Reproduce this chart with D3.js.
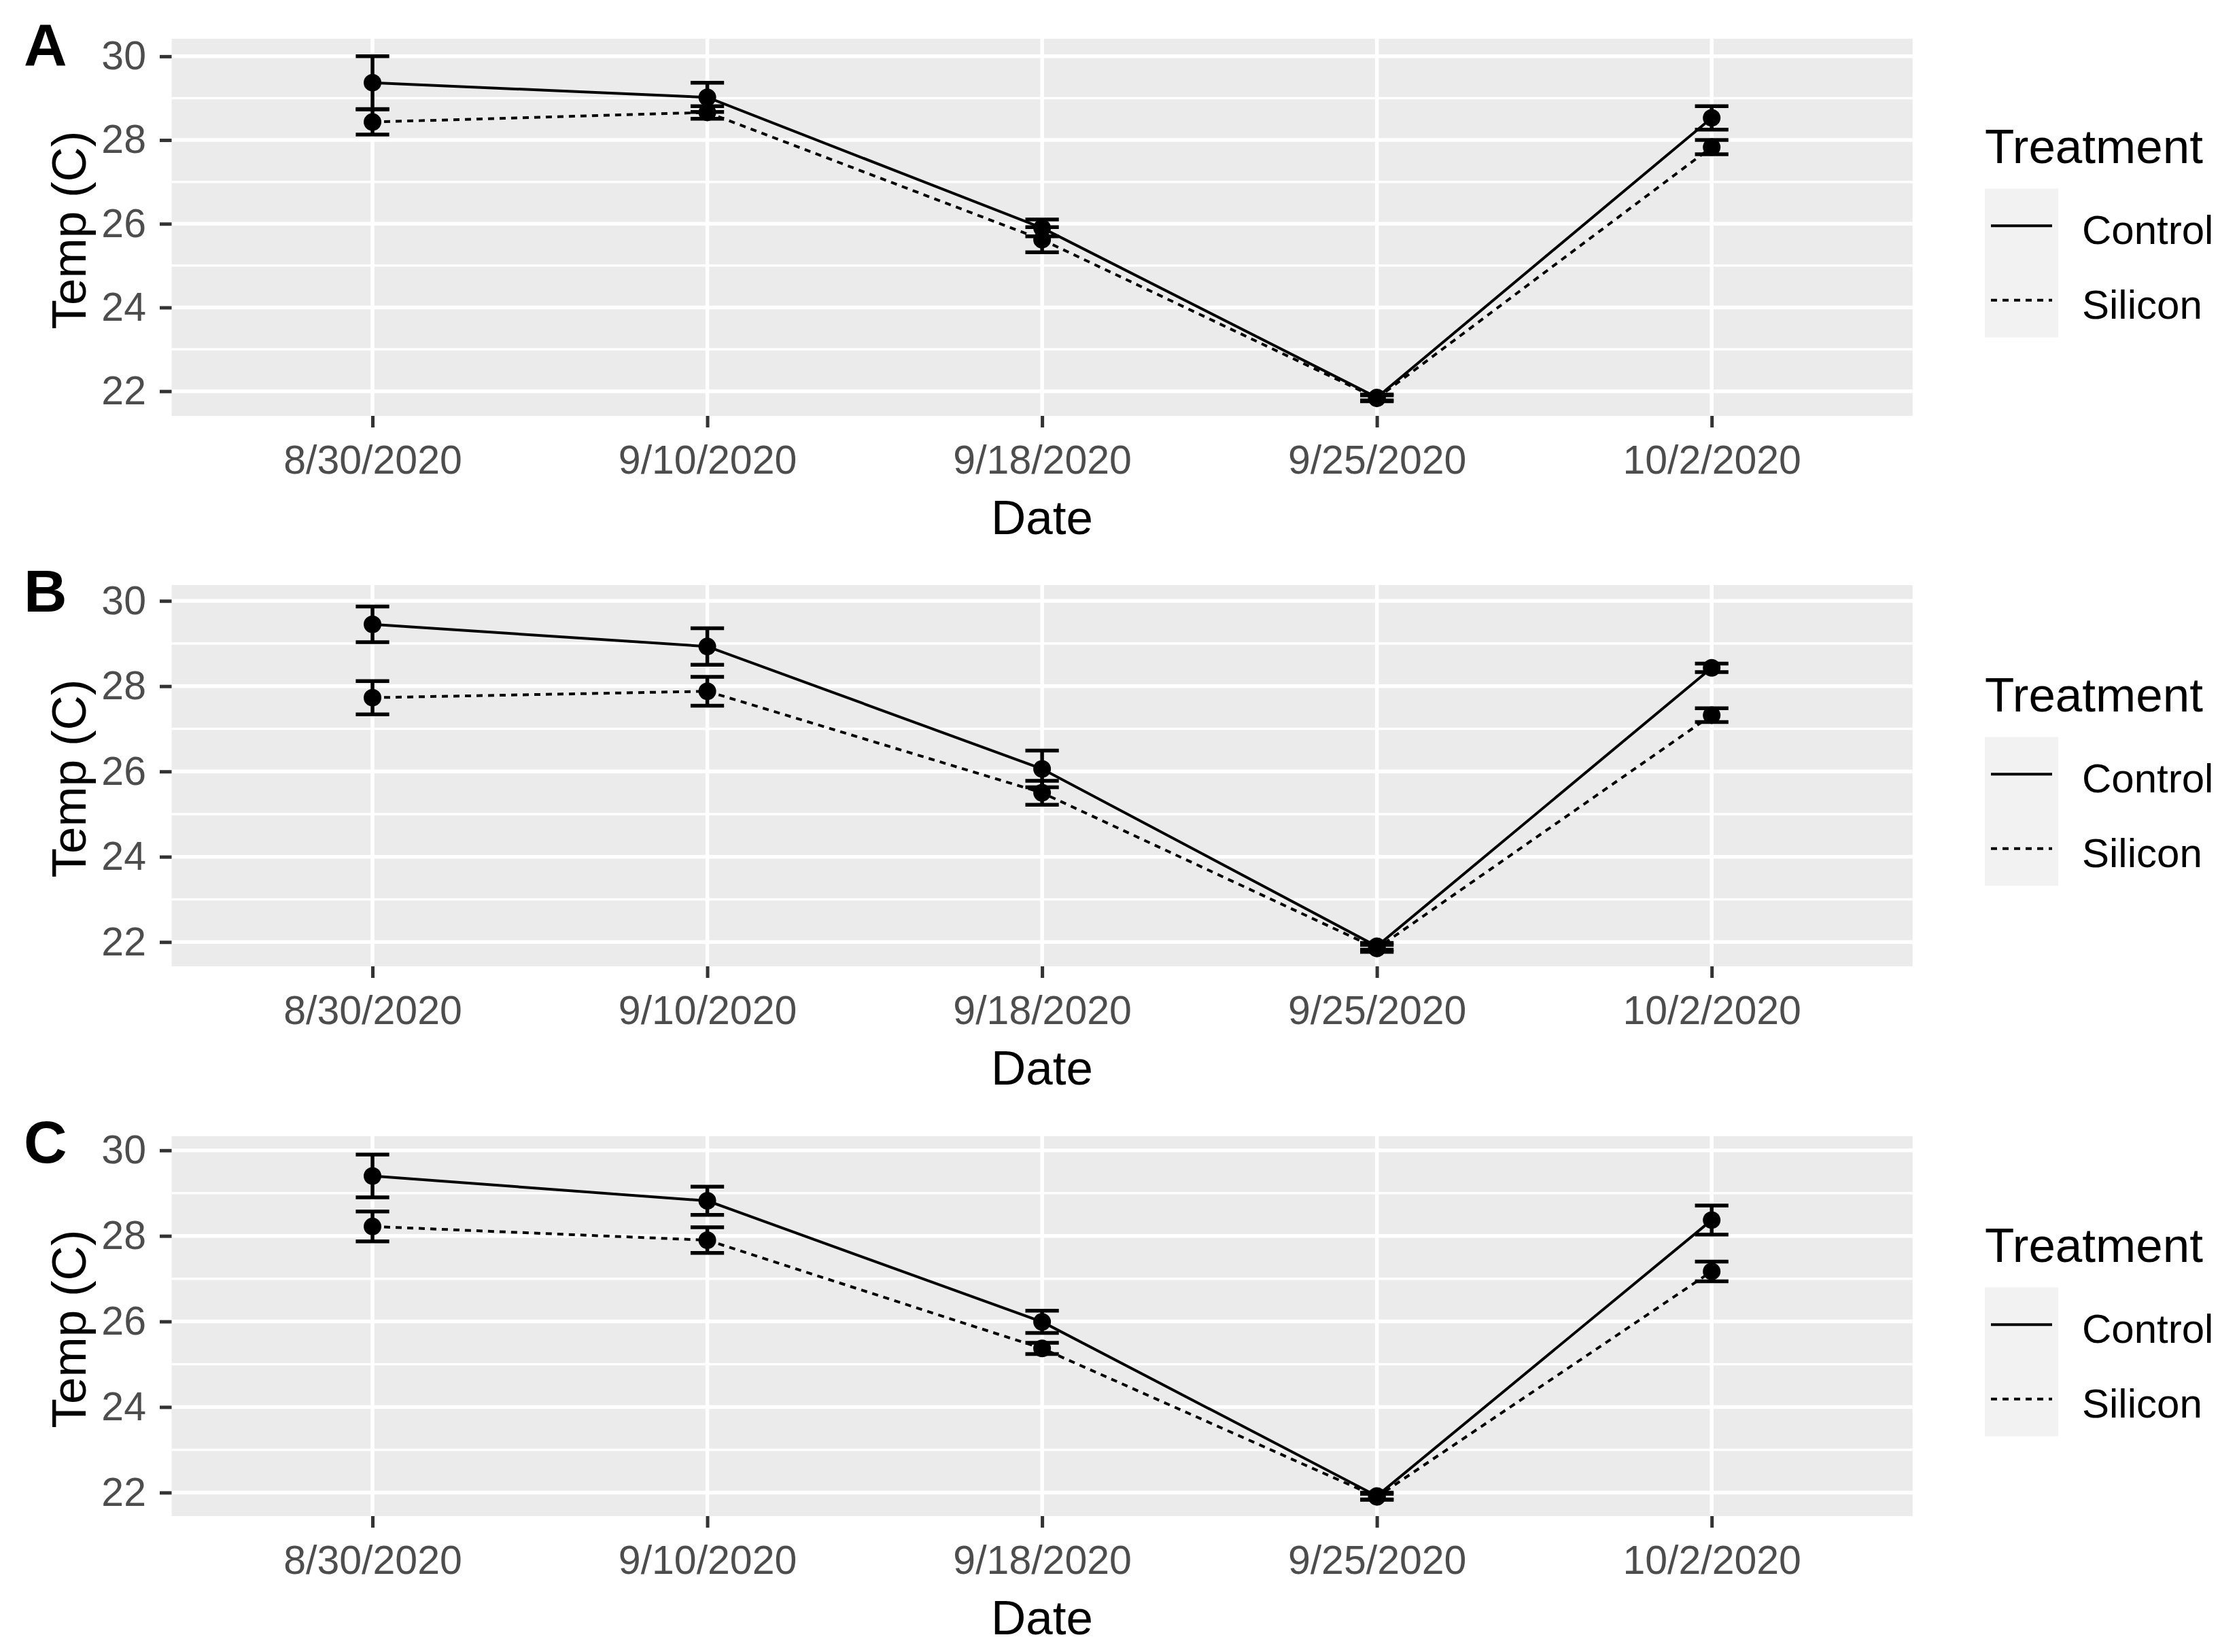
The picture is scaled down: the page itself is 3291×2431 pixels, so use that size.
<!DOCTYPE html>
<html>
<head>
<meta charset="utf-8">
<script src="https://cdn.jsdelivr.net/npm/d3@7"></script>
<style>
  html, body { margin: 0; padding: 0; background: #ffffff; }
  text { font-family: "Liberation Sans", Arial, sans-serif; }
</style>
</head>
<body>
<svg id="chart" width="3291" height="2431"></svg>
<script>
// ---------------- DATA ----------------
const dates = ["8/30/2020", "9/10/2020", "9/18/2020", "9/25/2020", "10/2/2020"];
const treatments = ["Control", "Silicon"];
const panelLabels = ["A", "B", "C"];
const yTickValues = [22, 24, 26, 28, 30];

// Panel A
const controlA   = [29.37, 29.02, 25.90, 21.85, 28.53];
const controlAse = [0.63, 0.35, 0.20, 0.07, 0.28];
const siliconA   = [28.43, 28.66, 25.62, 21.83, 27.83];
const siliconAse = [0.30, 0.15, 0.30, 0.07, 0.17];
// Panel B
const controlB   = [29.45, 28.93, 26.06, 21.90, 28.43];
const controlBse = [0.42, 0.43, 0.43, 0.08, 0.10];
const siliconB   = [27.73, 27.88, 25.50, 21.85, 27.32];
const siliconBse = [0.39, 0.34, 0.28, 0.08, 0.16];
// Panel C
const controlC   = [29.40, 28.82, 25.99, 21.92, 28.37];
const controlCse = [0.50, 0.33, 0.26, 0.08, 0.34];
const siliconC   = [28.22, 27.90, 25.37, 21.90, 27.17];
const siliconCse = [0.35, 0.30, 0.13, 0.07, 0.23];

// y-axis limits per panel (ggplot-style expanded range)
const yLimits = [[21.41, 30.42], [21.43, 30.37], [21.45, 30.33]];

const panelsData = [
  { control: controlA, controlSe: controlAse, silicon: siliconA, siliconSe: siliconAse },
  { control: controlB, controlSe: controlBse, silicon: siliconB, siliconSe: siliconBse },
  { control: controlC, controlSe: controlCse, silicon: siliconC, siliconSe: siliconCse }
];

// ---------------- LAYOUT ----------------
const panelLeft = 252.5, panelRight = 2813.7;
const panelBoxes = [[57, 612], [861, 1422], [1672, 2231]];
const tickFont = 59, titleFont = 71, legendTitleFont = 71, legendLabelFont = 60, letterFont = 88;
const dashes = { Control: null, Silicon: "9,8" };
const lineW = 4, barW = 5.5, pointR = 13;

const svg = d3.select("#chart");
svg.append("rect").attr("width", 3291).attr("height", 2431).attr("fill", "#ffffff");

const x = d3.scalePoint().domain(dates).range([panelLeft, panelRight]).padding(0.6);

panelsData.forEach((pd, i) => {
  const [top, bottom] = panelBoxes[i];
  const y = d3.scaleLinear().domain(yLimits[i]).range([bottom, top]);
  const g = svg.append("g");

  // panel background
  g.append("rect")
    .attr("x", panelLeft).attr("y", top)
    .attr("width", panelRight - panelLeft).attr("height", bottom - top)
    .attr("fill", "#EBEBEB");

  // minor grid
  const minor = d3.range(Math.ceil(yLimits[i][0]), Math.floor(yLimits[i][1]) + 1).filter(v => v % 2 === 1);
  g.selectAll(".minor").data(minor).enter().append("line")
    .attr("x1", panelLeft).attr("x2", panelRight)
    .attr("y1", d => y(d)).attr("y2", d => y(d))
    .attr("stroke", "#ffffff").attr("stroke-width", 3.5);
  // major grid
  g.selectAll(".major").data(yTickValues).enter().append("line")
    .attr("x1", panelLeft).attr("x2", panelRight)
    .attr("y1", d => y(d)).attr("y2", d => y(d))
    .attr("stroke", "#ffffff").attr("stroke-width", 5.5);
  g.selectAll(".vgrid").data(dates).enter().append("line")
    .attr("x1", d => x(d)).attr("x2", d => x(d))
    .attr("y1", top).attr("y2", bottom)
    .attr("stroke", "#ffffff").attr("stroke-width", 5.5);

  // axes
  const yAxis = d3.axisLeft(y).tickValues(yTickValues).tickSize(17.5).tickPadding(20);
  const ya = g.append("g").attr("transform", `translate(${panelLeft},0)`).call(yAxis);
  ya.select(".domain").remove();
  ya.selectAll(".tick line").attr("stroke", "#333333").attr("stroke-width", 5);
  ya.selectAll(".tick text").attr("fill", "#4D4D4D").attr("font-size", tickFont)
    .attr("font-family", "Liberation Sans, Arial, sans-serif");

  const xAxis = d3.axisBottom(x).tickSize(17).tickPadding(26);
  const xa = g.append("g").attr("transform", `translate(0,${bottom})`).call(xAxis);
  xa.select(".domain").remove();
  xa.selectAll(".tick line").attr("stroke", "#333333").attr("stroke-width", 5);
  xa.selectAll(".tick text").attr("fill", "#4D4D4D").attr("font-size", tickFont)
    .attr("font-family", "Liberation Sans, Arial, sans-serif");

  // axis titles
  g.append("text")
    .attr("x", (panelLeft + panelRight) / 2).attr("y", bottom + 174)
    .attr("text-anchor", "middle").attr("font-size", titleFont).attr("fill", "#000")
    .text("Date");
  g.append("text")
    .attr("transform", `translate(126,${(top + bottom) / 2 + 4}) rotate(-90)`)
    .attr("text-anchor", "middle").attr("font-size", titleFont).attr("fill", "#000")
    .text("Temp (C)");

  // panel letter
  g.append("text")
    .attr("x", 35).attr("y", top + 39)
    .attr("font-size", letterFont).attr("font-weight", "bold").attr("fill", "#000")
    .text(panelLabels[i]);

  // series
  const series = treatments.map(t => {
    const vals = t === "Control" ? pd.control : pd.silicon;
    const ses = t === "Control" ? pd.controlSe : pd.siliconSe;
    return { name: t, values: dates.map((d, k) => ({ date: d, v: vals[k], se: ses[k] })) };
  });

  const line = d3.line().x(d => x(d.date)).y(d => y(d.v));
  const capHalf = x.step() * 0.05;

  series.forEach(s => {
    g.append("path").datum(s.values)
      .attr("d", line).attr("fill", "none")
      .attr("stroke", "#000").attr("stroke-width", lineW)
      .attr("stroke-dasharray", dashes[s.name]);
  });

  series.forEach(s => {
    const eb = g.selectAll(null).data(s.values).enter().append("g");
    eb.append("line")
      .attr("x1", d => x(d.date)).attr("x2", d => x(d.date))
      .attr("y1", d => y(d.v - d.se)).attr("y2", d => y(d.v + d.se))
      .attr("stroke", "#000").attr("stroke-width", barW);
    eb.append("line")
      .attr("x1", d => x(d.date) - capHalf).attr("x2", d => x(d.date) + capHalf)
      .attr("y1", d => y(d.v + d.se)).attr("y2", d => y(d.v + d.se))
      .attr("stroke", "#000").attr("stroke-width", barW);
    eb.append("line")
      .attr("x1", d => x(d.date) - capHalf).attr("x2", d => x(d.date) + capHalf)
      .attr("y1", d => y(d.v - d.se)).attr("y2", d => y(d.v - d.se))
      .attr("stroke", "#000").attr("stroke-width", barW);
    g.selectAll(null).data(s.values).enter().append("circle")
      .attr("cx", d => x(d.date)).attr("cy", d => y(d.v)).attr("r", pointR)
      .attr("fill", "#000");
  });

  // legend
  const cy = (top + bottom) / 2;
  const lg = g.append("g");
  lg.append("text")
    .attr("x", 2920).attr("y", cy - 95)
    .attr("font-size", legendTitleFont).attr("fill", "#000")
    .text("Treatment");
  const keyTop = cy - 57, keyH = 109.5;
  treatments.forEach((t, k) => {
    lg.append("rect")
      .attr("x", 2920).attr("y", keyTop + k * keyH)
      .attr("width", 108).attr("height", keyH)
      .attr("fill", "#F2F2F2");
  });
  treatments.forEach((t, k) => {
    const ky = keyTop + k * keyH + keyH / 2;
    lg.append("line")
      .attr("x1", 2929).attr("x2", 3019).attr("y1", ky).attr("y2", ky)
      .attr("stroke", "#000").attr("stroke-width", lineW)
      .attr("stroke-dasharray", dashes[t]);
    lg.append("text")
      .attr("x", 3063).attr("y", ky + 27)
      .attr("font-size", legendLabelFont).attr("fill", "#000")
      .text(t);
  });
});
</script>
</body>
</html>
